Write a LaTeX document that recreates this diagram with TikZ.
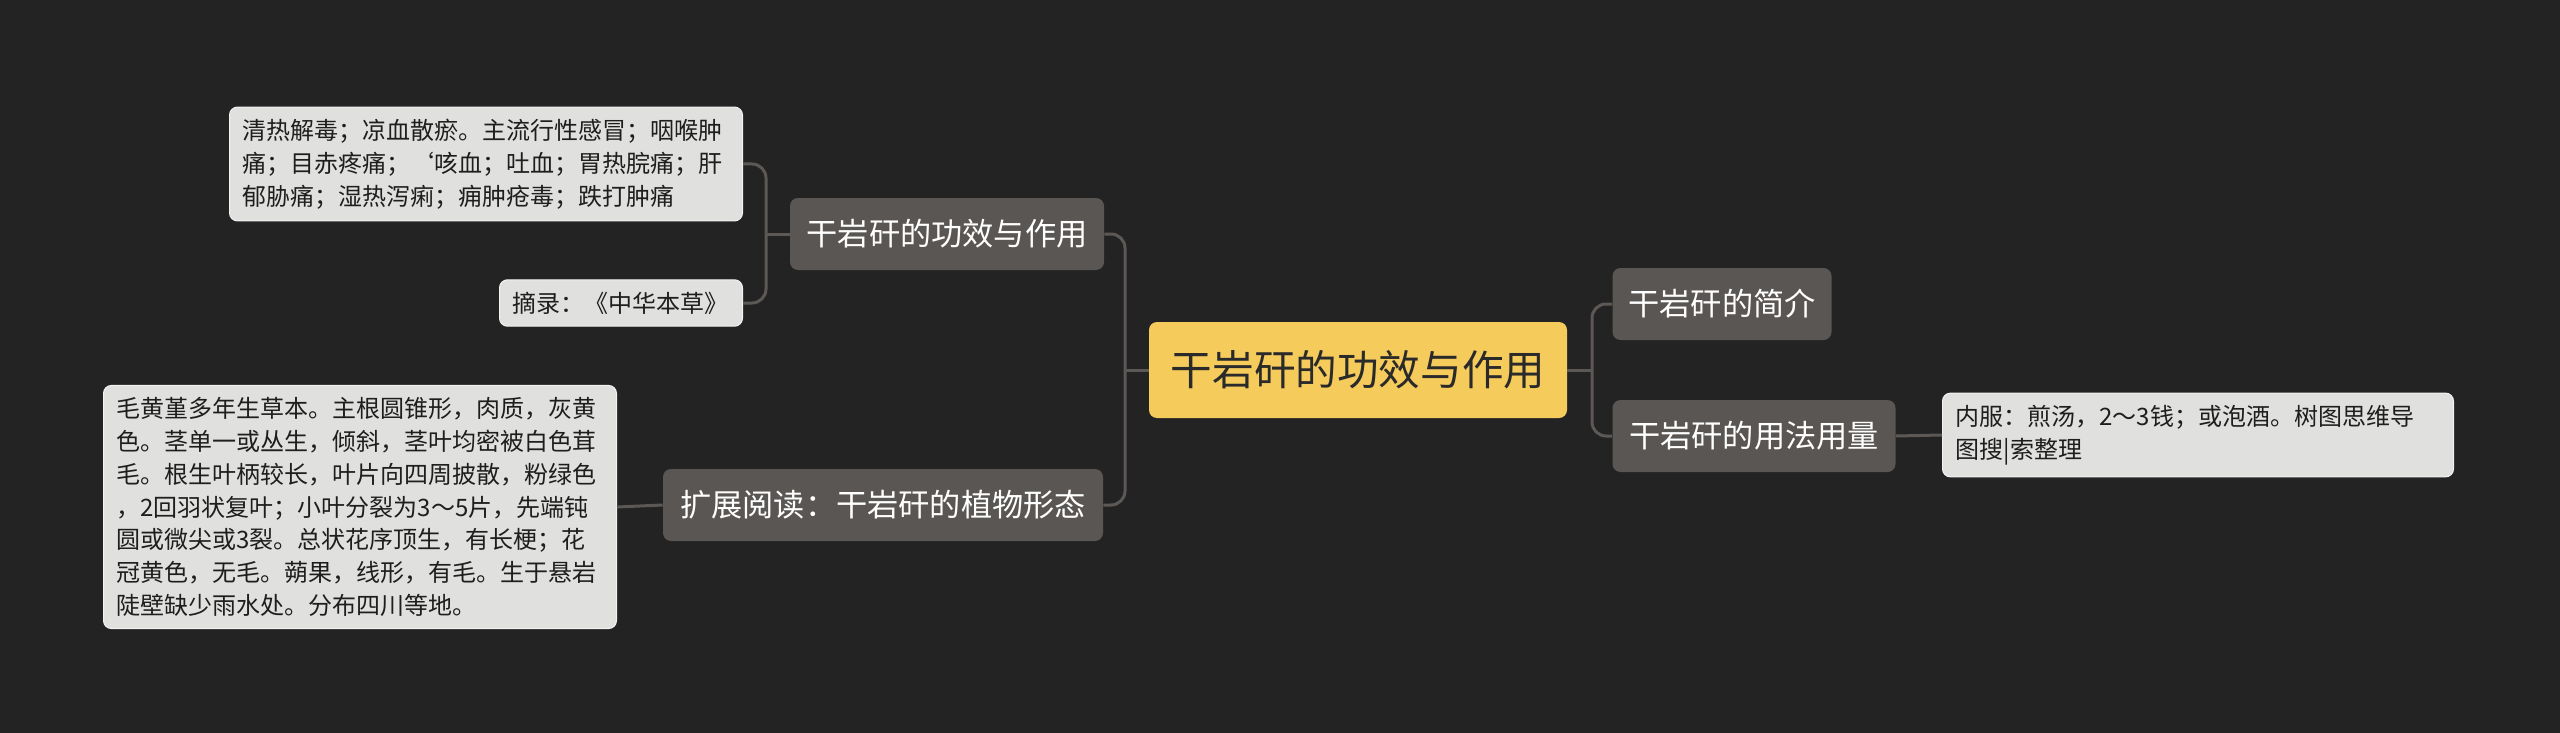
\documentclass[tikz,border=0pt]{standalone}
\usepackage{fontspec}
\newfontfamily\cjk{Noto Sans CJK SC}
\usepackage{xcolor}
\usetikzlibrary{positioning}

\definecolor{bgdark}{HTML}{232323}
\definecolor{rootfill}{HTML}{F5CB5C}
\definecolor{rootink}{HTML}{2A2A2A}
\definecolor{topicfill}{HTML}{5A5653}
\definecolor{leaffill}{HTML}{E0E0DE}
\definecolor{leafedge}{HTML}{F2F2F2}
\definecolor{leafink}{HTML}{1E1E1E}
\definecolor{linkgray}{HTML}{5C5855}

\begin{document}
\begin{tikzpicture}[
  x=0.5pt, y=-0.5pt,
  root/.style={rectangle, rounded corners=4pt, fill=rootfill, text=rootink, inner sep=0pt,
    font=\cjk\fontsize{20.8}{24}\selectfont, minimum width=209pt, minimum height=48pt},
  topic/.style={rectangle, rounded corners=4pt, fill=topicfill, text=white, inner sep=0pt,
    font=\cjk\fontsize{15.6}{19}\selectfont, minimum height=36pt},
  leaf/.style={rectangle, rounded corners=4pt, fill=leaffill, draw=leafedge, line width=0.5pt,
    text=leafink, align=left, inner xsep=6.5pt, inner ysep=6pt,
    font=\cjk\fontsize{12}{16.4}\selectfont},
  link/.style={draw=linkgray, line width=1.5pt, rounded corners=7pt}
]

% background and frame
\fill[bgdark] (0,0) rectangle (2560,733);

% --- root ---
\node[root] (root) at (1358, 370) {干岩矸的功效与作用};

% --- left side ---
\node[topic, minimum width=157pt] (gongxiao) at (947, 234) {干岩矸的功效与作用};
\node[topic, minimum width=220pt] (kuozhan) at (883, 505) {扩展阅读：干岩矸的植物形态};

\node[leaf, text width=243.5pt] (jiedu) at (486, 164) {清热解毒；凉血散瘀。主流行性感冒；咽喉肿\\痛；目赤疼痛；‘咳血；吐血；胃热脘痛；肝\\郁胁痛；湿热泻痢；痈肿疮毒；跌打肿痛};
\node[leaf, text width=108.5pt] (zhailu) at (621, 303) {摘录：《中华本草》};
\node[leaf, text width=243.5pt] (xingtai) at (360, 507) {毛黄堇多年生草本。主根圆锥形，肉质，灰黄\\色。茎单一或丛生，倾斜，茎叶均密被白色茸\\毛。根生叶柄较长，叶片向四周披散，粉绿色\\，2回羽状复叶；小叶分裂为3～5片，先端钝\\圆或微尖或3裂。总状花序顶生，有长梗；花\\冠黄色，无毛。蒴果，线形，有毛。生于悬岩\\陡壁缺少雨水处。分布四川等地。};

% --- right side ---
\node[topic, minimum width=109.5pt] (jianjie) at (1722, 304) {干岩矸的简介};
\node[topic, minimum width=141.5pt] (yongfa) at (1754, 436) {干岩矸的用法用量};
\node[leaf, text width=242.5pt] (neifu) at (2198, 435) {内服：煎汤，2～3钱；或泡酒。树图思维导\\图搜|索整理};

% --- junctions ---
\coordinate (hubL) at (1125, 370);
\coordinate (hubR) at (1592, 370);
\coordinate (hubA) at (766, 234);

% --- connectors ---
\draw[link] (root.west) -- (hubL);
\draw[link] (gongxiao.east) -| (hubL);
\draw[link] (kuozhan.east) -| (hubL);
\draw[link] (root.east) -- (hubR);
\draw[link] (jianjie.west) -| (hubR);
\draw[link] (yongfa.west) -| (hubR);
\draw[link] (gongxiao.west) -- (hubA);
\draw[link] (jiedu.east) -| (hubA);
\draw[link] (zhailu.east) -| (hubA);
\draw[link] (kuozhan.west) -- (xingtai.east);
\draw[link] (yongfa.east) -- (neifu.west);

\end{tikzpicture}
\end{document}
